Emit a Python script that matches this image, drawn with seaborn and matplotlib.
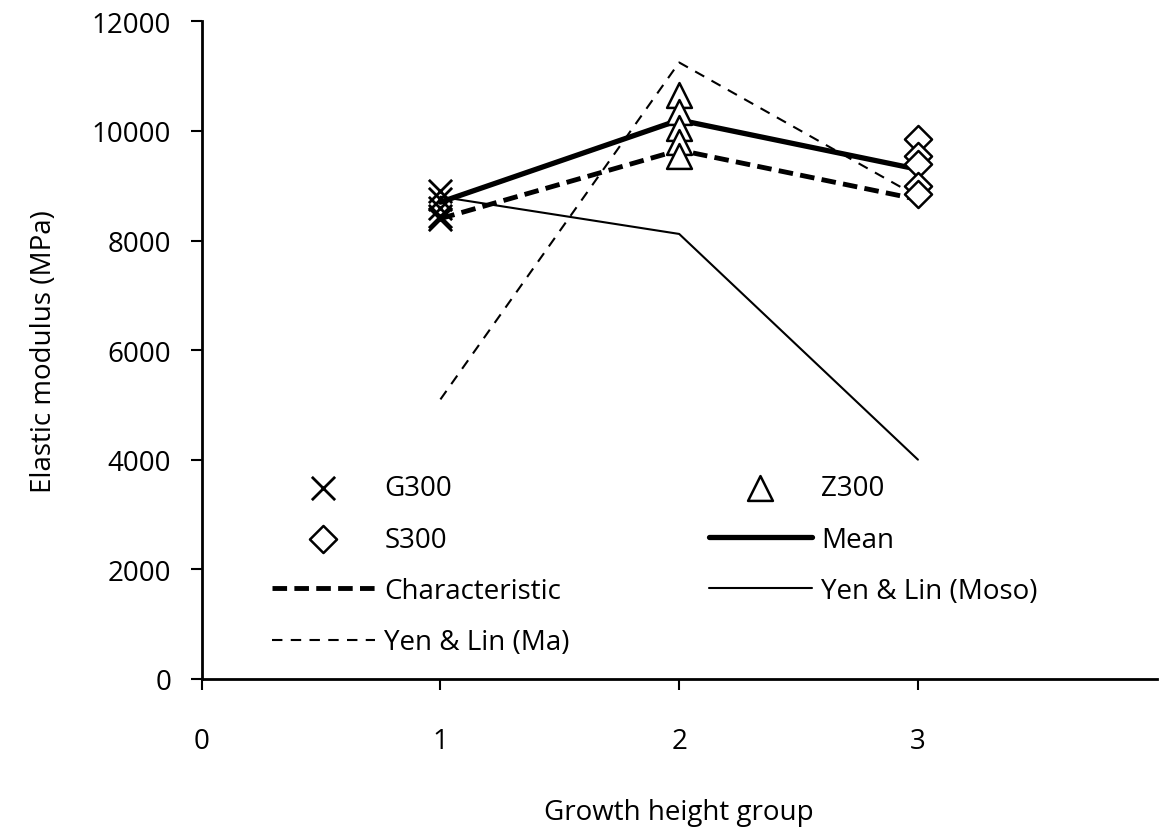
import matplotlib
matplotlib.use('Agg')
import matplotlib.pyplot as plt
import seaborn as sns
import pandas as pd

sns.set_style('ticks')
plt.rcParams['font.family'] = ['Open Sans', 'DejaVu Sans']
plt.rcParams['text.color'] = 'black'
plt.rcParams['axes.labelcolor'] = 'black'

# specimen values
g300_x = [1, 1, 1, 1, 1]
g300_y = [8900, 8750, 8600, 8450, 8400]
z300_x = [2, 2, 2, 2, 2]
z300_y = [10650, 10350, 10050, 9800, 9550]
s300_x = [3, 3, 3, 3, 3]
s300_y = [9850, 9550, 9400, 9000, 8850]

groups = [1, 2, 3]
mean_vals = [8700, 10200, 9300]
char_vals = [8400, 9650, 8750]
moso_vals = [8800, 8120, 4000]
ma_vals = [5100, 11250, 8800]

fig = plt.figure(figsize=(11.59, 8.29), dpi=100)
ax = fig.add_axes([0.174, 0.180, 0.824, 0.793])

sns.lineplot(x=groups, y=ma_vals, ax=ax, color='black', lw=1.5,
             linestyle=(0, (5, 4)), label='Yen & Lin (Ma)')
sns.lineplot(x=groups, y=moso_vals, ax=ax, color='black', lw=1.5,
             label='Yen & Lin (Moso)')
sns.lineplot(x=groups, y=char_vals, ax=ax, color='black', lw=3.5,
             linestyle=(0, (3, 1.5)), label='Characteristic')
sns.lineplot(x=groups, y=mean_vals, ax=ax, color='black', lw=3.8, label='Mean')

sns.scatterplot(x=g300_x, y=g300_y, ax=ax, marker='x', s=280, color='black',
                linewidth=2, label='G300', zorder=5)
sns.scatterplot(x=z300_x, y=z300_y, ax=ax, marker='^', s=320, facecolor='white',
                edgecolor='black', linewidth=1.8, label='Z300', zorder=5)
sns.scatterplot(x=s300_x, y=s300_y, ax=ax, marker='D', s=190, facecolor='white',
                edgecolor='black', linewidth=1.8, label='S300', zorder=5)

ax.set_xlim(0, 4)
ax.set_ylim(0, 12000)
ax.set_xticks([0, 1, 2, 3])
ax.set_yticks(range(0, 12001, 2000))
ax.tick_params(axis='both', labelsize=20, width=1.5, length=8, colors='black')
ax.tick_params(axis='x', pad=27)
ax.tick_params(axis='y', pad=14)
ax.set_xlabel('Growth height group', fontsize=20, labelpad=31)
ax.set_ylabel('Elastic modulus (MPa)', fontsize=20, labelpad=24)
sns.despine(ax=ax)
for s in ['left', 'bottom']:
    ax.spines[s].set_linewidth(2)
    ax.spines[s].set_color('black')

h, l = ax.get_legend_handles_labels()
d = dict(zip(l, h))
order = ['G300', 'S300', 'Characteristic', 'Yen & Lin (Ma)',
         'Z300', 'Mean', 'Yen & Lin (Moso)']
ax.legend([d[k] for k in order], order, loc='upper left',
          bbox_to_anchor=(0.062, 0.328), ncol=2, frameon=False, fontsize=20,
          handlelength=3.7, handletextpad=0.35, columnspacing=5.0,
          labelspacing=0.84, borderaxespad=0)

fig.savefig('out.png', dpi=100)
